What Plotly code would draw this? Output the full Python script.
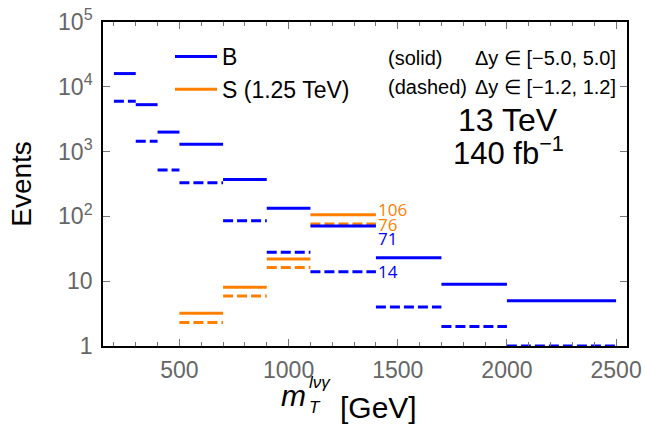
import plotly.graph_objects as go
import math

# ---- data ----
bin_lo = [200, 300, 400, 500, 700, 900, 1100, 1400, 1700, 2000]
bin_hi = [300, 400, 500, 700, 900, 1100, 1400, 1700, 2000, 2500]
B_solid = [16000, 5300, 2000, 1300, 370, 133, 71, 23, 9.0, 5.0]
B_dashed = [6000, 1450, 520, 330, 86, 28, 14, 4.0, 2.0, 1.0]
S_lo = [500, 700, 900, 1100]
S_hi = [700, 900, 1100, 1400]
S_solid = [3.2, 8.1, 22, 106]
S_dashed = [2.3, 5.9, 16.3, 76]

BLUE = "#0000ff"
ORANGE = "#ff8000"

W, H = 645, 434
ML, MR, MT, MB = 103, 18, 22, 88
PW, PH = W - ML - MR, H - MT - MB


def px(xp):
    return (xp - ML) / PW


def py(yp):
    return (H - MB - yp) / PH


def segs(lo, hi, vals):
    xs, ys = [], []
    for a, b, v in zip(lo, hi, vals):
        xs += [a, b, None]
        ys += [v, v, None]
    return xs, ys


fig = go.Figure()
for lo, hi, vals, col, dash, name, show in [
    (bin_lo, bin_hi, B_dashed, BLUE, "10px,4px", "B dashed", False),
    (S_lo, S_hi, S_dashed, ORANGE, "10px,4px", "S dashed", False),
    (bin_lo, bin_hi, B_solid, BLUE, "solid", "B", True),
    (S_lo, S_hi, S_solid, ORANGE, "solid", "S (1.25 TeV)", True),
]:
    xs, ys = segs(lo, hi, vals)
    fig.add_trace(go.Scatter(x=xs, y=ys, mode="lines", name=name, showlegend=show,
                             line=dict(color=col, width=3, dash=dash),
                             hoverinfo="skip"))

ann = []
# value labels at the 1100-1400 bin
for val, col, ysh in [(S_solid[3], ORANGE, 5), (S_dashed[3], ORANGE, 0),
                      (B_solid[6], BLUE, -12), (B_dashed[6], BLUE, 0)]:
    ann.append(dict(x=1400, y=math.log10(val), xref="x", yref="y", text=str(int(val)),
                    showarrow=False, xanchor="left", yanchor="middle", xshift=0, yshift=ysh,
                    font=dict(size=17, color=col)))

txtfont = dict(family="Liberation Sans, Arial, sans-serif", color="black")
ann += [
    dict(x=px(386), y=py(58), text="(solid)", xanchor="left", font=dict(size=20, **txtfont)),
    dict(x=px(618), y=py(58), text="Δy ∈ [−5.0, 5.0]", xanchor="right", font=dict(size=20, **txtfont)),
    dict(x=px(386), y=py(87), text="(dashed)", xanchor="left", font=dict(size=20, **txtfont)),
    dict(x=px(618), y=py(87), text="Δy ∈ [−1.2, 1.2]", xanchor="right", font=dict(size=20, **txtfont)),
    dict(x=px(508), y=py(120), text="13 TeV", xanchor="center", font=dict(size=32, **txtfont)),
    dict(x=px(508), y=py(151), text="140 fb<sup>−1</sup>", xanchor="center", font=dict(size=31, **txtfont)),
    # x-axis title pieces
    dict(x=px(308), y=py(395), text="<i>m</i>", xanchor="right", font=dict(size=30, **txtfont)),
    dict(x=px(307), y=py(382), text="<i>lνγ</i>", xanchor="left", font=dict(size=17, **txtfont)),
    dict(x=px(307), y=py(407), text="<i>T</i>", xanchor="left", font=dict(size=17, **txtfont)),
    dict(x=px(338), y=py(407), text="[GeV]", xanchor="left", font=dict(size=30, **txtfont)),
]
for a in ann[4:]:
    a.update(xref="paper", yref="paper", showarrow=False, yanchor="middle")

tickfont = dict(family="Liberation Sans, Arial, sans-serif", size=23, color="#666666")

fig.update_layout(
    width=W, height=H,
    margin=dict(l=ML, r=MR, t=MT, b=MB, autoexpand=False),
    paper_bgcolor="white", plot_bgcolor="white",
    annotations=ann,
    showlegend=True,
    legend=dict(x=px(170), y=py(35), xanchor="left", yanchor="top",
                bgcolor="rgba(0,0,0,0)", itemwidth=42,
                font=dict(size=23, family="Liberation Sans, Arial, sans-serif", color="black")),
    xaxis=dict(range=[150, 2550], tickvals=[500, 1000, 1500, 2000, 2500], automargin=False,
               ticks="inside", ticklen=7, tickwidth=1.2, tickcolor="#777777",
               minor=dict(dtick=100, tick0=0, ticks="inside", ticklen=4, tickcolor="#777777", tickwidth=1),
               showline=True, linecolor="black", linewidth=1.6, mirror="allticks",
               showgrid=False, zeroline=False, tickfont=tickfont, ticklabelstandoff=3),
    yaxis=dict(type="log", range=[0, 5], automargin=False,
               tickvals=[1, 10, 100, 1000, 1e4, 1e5],
               ticktext=["1", "10", "10<sup>2</sup>", "10<sup>3</sup>", "10<sup>4</sup>", "10<sup>5</sup>"],
               ticks="inside", ticklen=7, tickwidth=1.2, tickcolor="#777777",
               showline=True, linecolor="black", linewidth=1.6, mirror="allticks",
               showgrid=False, zeroline=False, tickfont=tickfont, ticklabelstandoff=4,
               title=dict(text="Events", standoff=18,
                          font=dict(size=28, family="Liberation Sans, Arial, sans-serif", color="black"))),
)

fig.write_html("out.html", config={"displayModeBar": False},
               post_script="document.body.style.margin='0px';")
